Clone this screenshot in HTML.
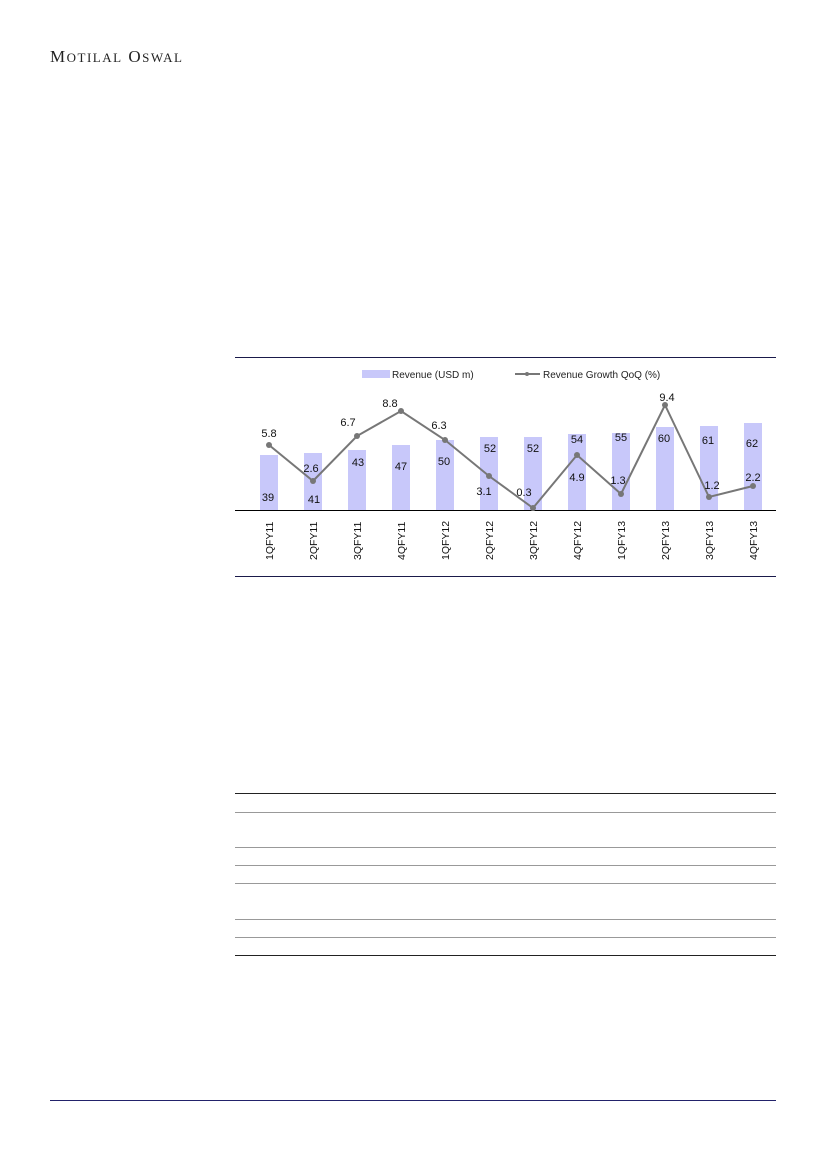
<!DOCTYPE html>
<html><head><style>
body{margin:0;width:826px;height:1169px;background:#fff;position:relative;font-family:"Liberation Sans",sans-serif;overflow:hidden}
</style></head><body>
<div style="position:absolute;left:50px;top:47px;font-family:'Liberation Serif',serif;font-size:17px;color:#222;letter-spacing:1.5px">M<span style="font-size:13px">OTILAL</span> O<span style="font-size:13px">SWAL</span></div>
<svg style="position:absolute;left:0;top:0" width="826" height="1169" font-family="Liberation Sans, sans-serif" font-size="11">
<line x1="235" y1="357.5" x2="776" y2="357.5" stroke="#1a1a4a"/>
<line x1="235" y1="576.5" x2="776" y2="576.5" stroke="#1a1a4a"/>
<rect x="362" y="370" width="28" height="8" fill="#c8c8fa"/>
<text x="392" y="378" font-size="10" fill="#222">Revenue (USD m)</text>
<line x1="515" y1="374" x2="540" y2="374" stroke="#777" stroke-width="2"/>
<circle cx="527" cy="374" r="2" fill="#777"/>
<text x="543" y="378" font-size="10" fill="#222">Revenue Growth QoQ (%)</text>
<g fill="#c8c8fa">
<rect x="260" y="455" width="18" height="55"/>
<rect x="304" y="453" width="18" height="57"/>
<rect x="348" y="450" width="18" height="60"/>
<rect x="392" y="445" width="18" height="65"/>
<rect x="436" y="440" width="18" height="70"/>
<rect x="480" y="437" width="18" height="73"/>
<rect x="524" y="437" width="18" height="73"/>
<rect x="568" y="434" width="18" height="76"/>
<rect x="612" y="433" width="18" height="77"/>
<rect x="656" y="427" width="18" height="83"/>
<rect x="700" y="426" width="18" height="84"/>
<rect x="744" y="423" width="18" height="87"/>
</g>
<line x1="235" y1="510.5" x2="776" y2="510.5" stroke="#000"/>
<polyline fill="none" stroke="#777" stroke-width="2" points="269,445 313,481 357,436 401,411 445,440 489,476 533,508 577,455 621,494 665,405 709,497 753,486"/>
<g fill="#777"><circle cx="269" cy="445" r="3"/><circle cx="313" cy="481" r="3"/><circle cx="357" cy="436" r="3"/><circle cx="401" cy="411" r="3"/><circle cx="445" cy="440" r="3"/><circle cx="489" cy="476" r="3"/><circle cx="533" cy="508" r="3"/><circle cx="577" cy="455" r="3"/><circle cx="621" cy="494" r="3"/><circle cx="665" cy="405" r="3"/><circle cx="709" cy="497" r="3"/><circle cx="753" cy="486" r="3"/></g>
<g fill="#111" text-anchor="middle">
<text x="268" y="501">39</text><text x="314" y="503">41</text><text x="358" y="466">43</text><text x="401" y="470">47</text><text x="444" y="465">50</text><text x="490" y="452">52</text><text x="533" y="452">52</text><text x="577" y="443">54</text><text x="621" y="441">55</text><text x="664" y="442">60</text><text x="708" y="444">61</text><text x="752" y="447">62</text>
<text x="269" y="437">5.8</text><text x="311" y="472">2.6</text><text x="348" y="426">6.7</text><text x="390" y="407">8.8</text><text x="439" y="429">6.3</text><text x="484" y="495">3.1</text><text x="524" y="496">0.3</text><text x="577" y="481">4.9</text><text x="618" y="484">1.3</text><text x="667" y="401">9.4</text><text x="712" y="489">1.2</text><text x="753" y="481">2.2</text>
</g>
<g fill="#111" font-size="10.5">
<text transform="translate(273,560) rotate(-90)">1QFY11</text>
<text transform="translate(317,560) rotate(-90)">2QFY11</text>
<text transform="translate(361,560) rotate(-90)">3QFY11</text>
<text transform="translate(405,560) rotate(-90)">4QFY11</text>
<text transform="translate(449,560) rotate(-90)">1QFY12</text>
<text transform="translate(493,560) rotate(-90)">2QFY12</text>
<text transform="translate(537,560) rotate(-90)">3QFY12</text>
<text transform="translate(581,560) rotate(-90)">4QFY12</text>
<text transform="translate(625,560) rotate(-90)">1QFY13</text>
<text transform="translate(669,560) rotate(-90)">2QFY13</text>
<text transform="translate(713,560) rotate(-90)">3QFY13</text>
<text transform="translate(757,560) rotate(-90)">4QFY13</text>
</g>
<line x1="235" y1="793.5" x2="776" y2="793.5" stroke="#222"/>
<line x1="235" y1="812.5" x2="776" y2="812.5" stroke="#999"/>
<line x1="235" y1="847.5" x2="776" y2="847.5" stroke="#999"/>
<line x1="235" y1="865.5" x2="776" y2="865.5" stroke="#999"/>
<line x1="235" y1="883.5" x2="776" y2="883.5" stroke="#999"/>
<line x1="235" y1="919.5" x2="776" y2="919.5" stroke="#999"/>
<line x1="235" y1="937.5" x2="776" y2="937.5" stroke="#999"/>
<line x1="235" y1="955.5" x2="776" y2="955.5" stroke="#222"/>
<line x1="50" y1="1100.5" x2="776" y2="1100.5" stroke="#22226a"/>
</svg>
</body></html>
